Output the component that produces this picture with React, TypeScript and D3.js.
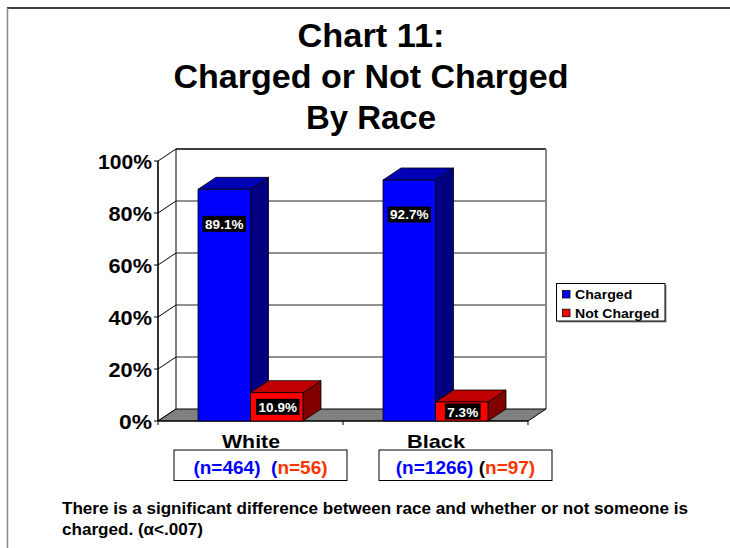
import React from "react";
import * as d3 from "d3";

// Chart data
const categories = ["White", "Black"];
const seriesNames = ["Charged", "Not Charged"];
const chargedPct = [89.1, 92.7];
const notChargedPct = [10.9, 7.3];
const yTicks = [0, 20, 40, 60, 80, 100];
const nCharged = [464, 1266];
const nNotCharged = [56, 97];
const nParenColors = ["#0000FF", "#000000"];

const titleLines = ["Chart 11:", "Charged or Not Charged", "By Race"];
const noteLines = [
  "There is a significant difference between race and whether or not someone is",
  "charged. (\u03b1<.007)",
];

const FONT = "'Liberation Sans', Arial, Helvetica, sans-serif";
const seriesColors = [
  { front: "#0000FF", top: "#0000B4", side: "#000080" },
  { front: "#FF0000", top: "#C00000", side: "#800000" },
];
const nColorA = "#0000FF";
const nColorB = "#FF3300";

const measureCtx =
  typeof document !== "undefined" ? document.createElement("canvas").getContext("2d") : null;
function textWidth(s: string, font: string) {
  if (!measureCtx) return s.length * 7;
  measureCtx.font = font;
  return measureCtx.measureText(s).width;
}

export default function App() {
  const W = 730;
  const H = 548;
  const dx = 18;
  const dy = 12;
  const left = 158;
  const right = 528;
  const base = 421;
  const topY = 161;

  const x0 = d3.scaleBand<string>().domain(categories).range([left, right]);
  const x1 = d3.scaleBand<string>().domain(seriesNames).range([40, 145]);
  const y = d3.scaleLinear().domain([0, 100]).range([base, topY]);

  const values = [chargedPct, notChargedPct];
  const labelFont = `bold 13.5px ${FONT}`;

  const bars: any[] = [];
  categories.forEach((cat, ci) => {
    seriesNames.forEach((s, si) => {
      const v = values[si][ci];
      const xl = (x0(cat) as number) + (x1(s) as number);
      const xr = xl + x1.bandwidth();
      const yt = y(v);
      const yb = y(0);
      bars.push({ key: cat + s, v, xl, xr, yt, yb, c: seriesColors[si] });
    });
  });

  const wallPath = d3.path();
  wallPath.moveTo(left, base);
  wallPath.lineTo(left, topY);
  wallPath.lineTo(left + dx, topY - dy);
  wallPath.lineTo(left + dx, base - dy);
  wallPath.closePath();

  const floorPts = [
    [left, base],
    [left + dx, base - dy],
    [right + dx, base - dy],
    [right, base],
  ]
    .map((p) => p.join(","))
    .join(" ");

  const nFont = `bold 19px ${FONT}`;

  return (
    <div style={{ position: "fixed", left: 0, top: 0, width: W, height: H, background: "#fff" }}>
      <svg width={W} height={H} style={{ display: "block" }} fontFamily={FONT}>
        <rect x={0} y={0} width={W} height={H} fill="#fff" />
        {/* page frame */}
        <line x1={7} y1={8} x2={W} y2={8} stroke="#000" strokeWidth={1.3} />
        <line x1={7.5} y1={8} x2={7.5} y2={H} stroke="#888" strokeWidth={1.5} />

        {/* title */}
        {titleLines.map((t, i) => (
          <text
            key={t}
            x={371}
            y={47 + i * 41}
            textAnchor="middle"
            fontSize={33}
            fontWeight="bold"
            textLength={[147, 395, 130][i]}
            lengthAdjust="spacingAndGlyphs"
          >
            {t}
          </text>
        ))}

        {/* back wall */}
        <rect x={left + dx} y={topY - dy} width={right - left} height={base - topY} fill="#fff" />
        {yTicks.slice(1, -1).map((t) => (
          <line
            key={"g" + t}
            x1={left + dx}
            x2={right + dx}
            y1={y(t) - dy}
            y2={y(t) - dy}
            stroke="#222"
            strokeWidth={1}
          />
        ))}
        <line x1={left + dx} x2={right + dx} y1={topY - dy} y2={topY - dy} stroke="#000" strokeWidth={1.6} />
        <line x1={right + dx} x2={right + dx} y1={topY - dy} y2={base - dy} stroke="#888" strokeWidth={2} />

        {/* side wall */}
        <path d={wallPath.toString()} fill="#fff" stroke="#000" strokeWidth={1} />
        {yTicks.slice(1, -1).map((t) => (
          <line key={"d" + t} x1={left} y1={y(t)} x2={left + dx} y2={y(t) - dy} stroke="#000" strokeWidth={1} />
        ))}

        {/* floor */}
        <polygon points={floorPts} fill="#808080" stroke="#000" strokeWidth={1} />

        {/* value axis */}
        <line x1={left} x2={left} y1={topY} y2={base} stroke="#000" strokeWidth={1.2} />
        {yTicks.map((t) => (
          <g key={"t" + t}>
            <line x1={left - 4} x2={left} y1={y(t)} y2={y(t)} stroke="#000" />
            <text
              x={152}
              y={y(t)}
              dy="0.37em"
              textAnchor="end"
              fontSize={20.5}
              fontWeight="bold"
              textLength={t === 100 ? 54 : t === 0 ? 33 : 43.5}
              lengthAdjust="spacingAndGlyphs"
            >
              {t}%
            </text>
          </g>
        ))}
        {/* category axis */}
        <line x1={left} x2={right} y1={base} y2={base} stroke="#000" strokeWidth={1.2} />
        {[left, ...categories.map((c) => (x0(c) as number) + x0.bandwidth())].map((xv, i) => (
          <line key={"c" + i} x1={xv} x2={xv} y1={base} y2={base + 4} stroke="#000" />
        ))}

        {/* bars */}
        {bars.map((b) => (
          <g key={b.key} stroke="#000" strokeWidth={0.8} strokeLinejoin="round">
            <polygon
              points={`${b.xr},${b.yt} ${b.xr + dx},${b.yt - dy} ${b.xr + dx},${b.yb - dy} ${b.xr},${b.yb}`}
              fill={b.c.side}
            />
            <polygon
              points={`${b.xl},${b.yt} ${b.xl + dx},${b.yt - dy} ${b.xr + dx},${b.yt - dy} ${b.xr},${b.yt}`}
              fill={b.c.top}
            />
            <rect x={b.xl} y={b.yt} width={b.xr - b.xl} height={b.yb - b.yt} fill={b.c.front} />
          </g>
        ))}

        {/* value labels */}
        {bars.map((b) => {
          const label = `${b.v.toFixed(1)}%`;
          const h = b.yb - b.yt;
          const cy = h > 70 ? b.yt + 34.5 : (b.yt + b.yb) / 2;
          const cx = (b.xl + b.xr) / 2 + (h > 70 ? 0 : 1);
          const w = textWidth(label, labelFont) + 5;
          return (
            <g key={"l" + b.key}>
              <rect x={cx - w / 2} y={cy - 8} width={w} height={16} fill="#000" />
              <text x={cx} y={cy} dy="0.37em" textAnchor="middle" fontSize={13.5} fontWeight="bold" fill="#fff">
                {label}
              </text>
            </g>
          );
        })}

        {/* category names */}
        {categories.map((c) => (
          <text
            key={"n" + c}
            x={(x0(c) as number) + x0.bandwidth() / 2 + 0.5}
            y={448}
            textAnchor="middle"
            fontSize={19}
            fontWeight="bold"
            textLength={58}
            lengthAdjust="spacingAndGlyphs"
          >
            {c}
          </text>
        ))}

        {/* sample size boxes: three colored pieces laid out left to right */}
        {categories.map((c, i) => {
          const cx = (x0(c) as number) + x0.bandwidth() / 2 + 10 + i * 20;
          const bx = cx - 86.5;
          const parts = [
            { s: `(n=${nCharged[i]})`, fill: nColorA },
            { s: i === 0 ? "\u00a0\u00a0(" : "\u00a0(", fill: nParenColors[i] },
            { s: `n=${nNotCharged[i]})`, fill: nColorB },
          ];
          const widths = parts.map((p) => textWidth(p.s, nFont));
          const total = d3.sum(widths);
          let xs = cx - total / 2;
          return (
            <g key={"b" + c}>
              <rect x={bx} y={450} width={173} height={30.5} fill="#fff" stroke="#000" strokeWidth={1} />
              <text y={473.5} fontSize={19} fontWeight="bold">
                {parts.map((p, k) => {
                  const px = xs;
                  xs += widths[k];
                  return (
                    <tspan key={k} x={px} fill={p.fill}>
                      {p.s}
                    </tspan>
                  );
                })}
              </text>
            </g>
          );
        })}

        {/* legend */}
        <g>
          <rect x={558} y={285} width={108.5} height={37.5} fill="#888" />
          <rect x={556.5} y={283.5} width={108.5} height={37.5} fill="#fff" stroke="#000" strokeWidth={1} />
          {seriesNames.map((s, i) => (
            <g key={"lg" + s}>
              <rect x={562.5} y={290.5 + i * 18.7} width={7.5} height={7.5} fill={seriesColors[i].front} stroke="#000" strokeWidth={0.8} />
              <text
                x={575}
                y={298.9 + i * 18.6}
                fontSize={13.5}
                fontWeight="bold"
                textLength={i === 0 ? 57.3 : 84.3}
                lengthAdjust="spacingAndGlyphs"
              >
                {s}
              </text>
            </g>
          ))}
        </g>

        {/* footnote */}
        {noteLines.map((t, i) => (
          <text
            key={"f" + i}
            x={62}
            y={514 + i * 21}
            fontSize={16.5}
            fontWeight="bold"
            textLength={i === 0 ? 626 : 141}
            lengthAdjust="spacingAndGlyphs"
          >
            {t}
          </text>
        ))}
      </svg>
    </div>
  );
}
